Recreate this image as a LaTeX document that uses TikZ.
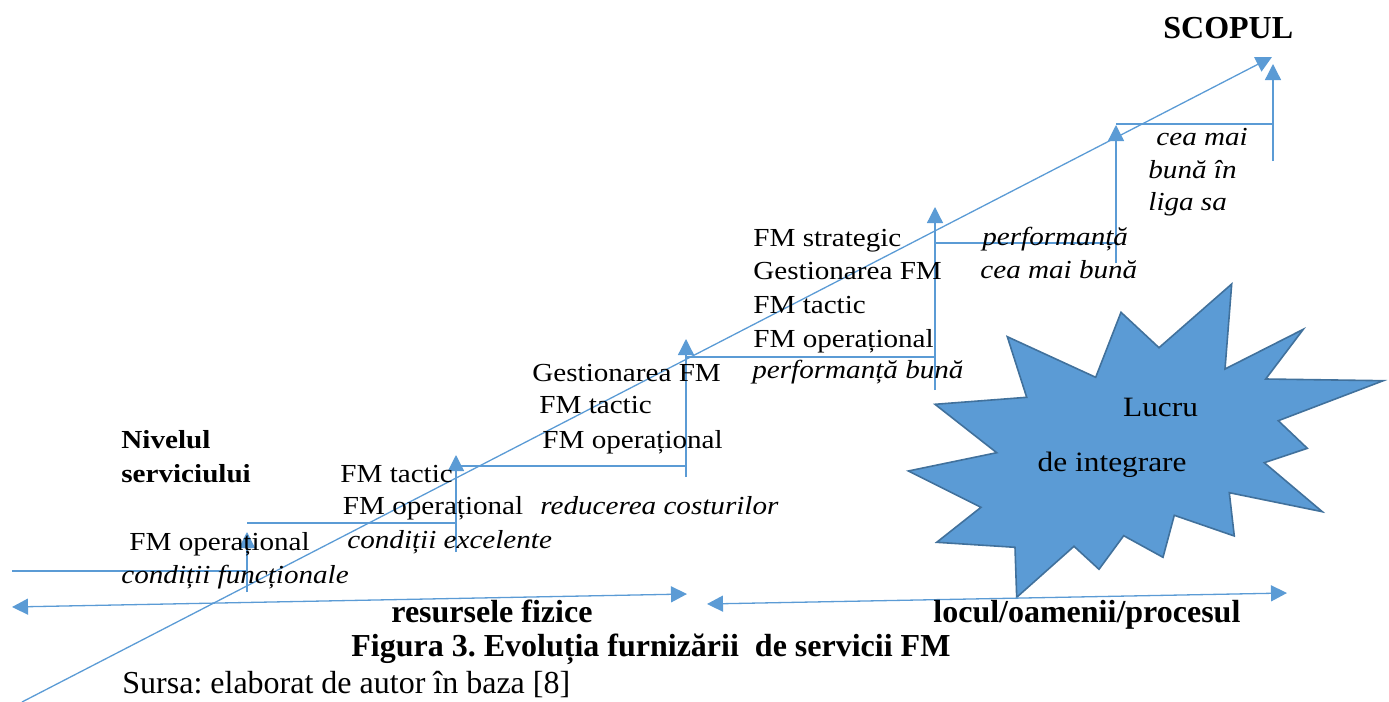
\documentclass[tikz,border=0pt]{standalone}
\usepackage{fontspec}
\setmainfont{Liberation Serif}
\newfontfamily\dfont{Liberation Serif}[FakeStretch=1.12]
\usetikzlibrary{arrows.meta}
\definecolor{ln}{HTML}{5B9BD5}
\definecolor{starfill}{HTML}{5B9BD5}
\definecolor{stardraw}{HTML}{41719C}
\frenchspacing
\begin{document}
\begin{tikzpicture}[x=0.5pt,y=-0.5pt,
  lbl/.style={anchor=base west, inner sep=0pt, font=\dfont\fontsize{13}{15}\selectfont},
  ilbl/.style={anchor=base west, inner sep=0pt, font=\dfont\itshape\fontsize{13}{15}\selectfont},
  blbl/.style={anchor=base west, inner sep=0pt, font=\dfont\bfseries\fontsize{13}{15}\selectfont},
  captxt/.style={anchor=base west, inner sep=0pt, font=\bfseries\fontsize{16}{18}\selectfont},
  srctxt/.style={anchor=base west, inner sep=0pt, font=\fontsize{16}{18}\selectfont},
  conn/.style={draw=ln, line width=0.65pt},
  arr/.style={conn, -{Triangle[length=8pt,width=8pt]}},
  darr/.style={conn, {Triangle[length=8pt,width=8pt]}-{Triangle[length=8pt,width=8pt]}},
  starshape/.style={fill=starfill, draw=stardraw, line width=0.8pt, line join=miter}
]
\useasboundingbox (0,0) rectangle (1389,702);

% star
\draw[starshape] (1231.7,284) -- (1225,369) -- (1303.3,329.3) -- (1265.7,379) -- (1383.3,380.7)
  -- (1278.3,420.7) -- (1307.3,448.3) -- (1264.3,462.7) -- (1322.3,511.7) -- (1229.3,492.7)
  -- (1234.3,536) -- (1174.3,515.3) -- (1163,557.3) -- (1123.7,535.7) -- (1099,569.3)
  -- (1074,546.3) -- (1016.7,597.3) -- (1015,547.3) -- (936.7,542.3) -- (981,507.3)
  -- (908.3,471) -- (996.7,452.7) -- (935,404.3) -- (1026.7,397.3) -- (1007.3,336.7)
  -- (1095.7,377.3) -- (1121,312.3) -- (1159,347.7) -- cycle;
\node[lbl, font=\dfont\fontsize{14}{16}\selectfont] (lucru) at (1122.7,416.7) {Lucru};
\node[lbl, font=\dfont\fontsize{14}{16}\selectfont] (integ) at (1037.3,471.7) {de integrare};

% staircase coordinates
\coordinate (h1a) at (12,571);   \coordinate (h1b) at (247,571);
\coordinate (v1a) at (247,592);  \coordinate (v1b) at (247,532);
\coordinate (h2a) at (247,523);  \coordinate (h2b) at (456,523);
\coordinate (v2a) at (456,552);  \coordinate (v2b) at (456,455);
\coordinate (h3a) at (456,466);  \coordinate (h3b) at (686,466);
\coordinate (v3a) at (686,477);  \coordinate (v3b) at (686,339);
\coordinate (h4a) at (686,357);  \coordinate (h4b) at (935,357);
\coordinate (v4a) at (935,390);  \coordinate (v4b) at (935,207);
\coordinate (h5a) at (935,243);  \coordinate (h5b) at (1116,243);
\coordinate (v5a) at (1116,263); \coordinate (v5b) at (1116,125);
\coordinate (h6a) at (1116,124); \coordinate (h6b) at (1273,124);
\coordinate (v6a) at (1273,161); \coordinate (v6b) at (1273,64);
\coordinate (dga) at (22,702);   \coordinate (dgb) at (1272,57);
\coordinate (b1a) at (12,607);   \coordinate (b1b) at (687,594);
\coordinate (b2a) at (707,604);  \coordinate (b2b) at (1287,593);

\draw[conn] (h1a) -- (h1b);
\draw[arr] (v1a) -- (v1b);
\draw[conn] (h2a) -- (h2b);
\draw[arr] (v2a) -- (v2b);
\draw[conn] (h3a) -- (h3b);
\draw[arr] (v3a) -- (v3b);
\draw[conn] (h4a) -- (h4b);
\draw[arr] (v4a) -- (v4b);
\draw[conn] (h5a) -- (h5b);
\draw[arr] (v5a) -- (v5b);
\draw[conn] (h6a) -- (h6b);
\draw[arr] (v6a) -- (v6b);
\draw[arr] (dga) -- (dgb);
\draw[darr] (b1a) -- (b1b);
\draw[darr] (b2a) -- (b2b);

% texts
\node[captxt] (scop) at (1163,38) {SCOPUL};
\node[blbl] (niv1) at (121,448) {Nivelul};
\node[blbl] (niv2) at (121,482) {serviciului};

\node[lbl] (a1) at (129,550) {FM operațional};
\node[ilbl] (a2) at (121,583) {condiții funcționale};

\node[lbl] (b1) at (340,482) {FM tactic};
\node[lbl] (b2) at (342.5,514) {FM operațional};
\node[ilbl] (b3) at (540,514) {reducerea costurilor};
\node[ilbl] (b4) at (347,548) {condiții excelente};

\node[lbl] (c1) at (532,381) {Gestionarea FM};
\node[lbl] (c2) at (539,413) {FM tactic};
\node[lbl] (c3) at (542,448) {FM operațional};

\node[lbl] (d1) at (753,246) {FM strategic};
\node[lbl] (d2) at (753,279) {Gestionarea FM};
\node[lbl] (d3) at (753,313) {FM tactic};
\node[lbl] (d4) at (753,347) {FM operațional};
\node[ilbl] (d5) at (752,378) {performanță bună};

\node[ilbl] (e1) at (982,245) {performanță};
\node[ilbl] (e2) at (980,278) {cea mai bună};

\node[ilbl] (f1) at (1156,145) {cea mai};
\node[ilbl] (f2) at (1148,178) {bună în};
\node[ilbl] (f3) at (1148,210) {liga sa};

\node[captxt] (res) at (391,622) {resursele fizice};
\node[captxt] (loc) at (933,622) {locul/oamenii/procesul};
\node[captxt] (fig) at (351,656) {Figura 3. Evoluția furnizării\ \ de servicii FM};
\node[srctxt] (sur) at (122,693) {Sursa: elaborat de autor în baza [8]};
\end{tikzpicture}
\end{document}
